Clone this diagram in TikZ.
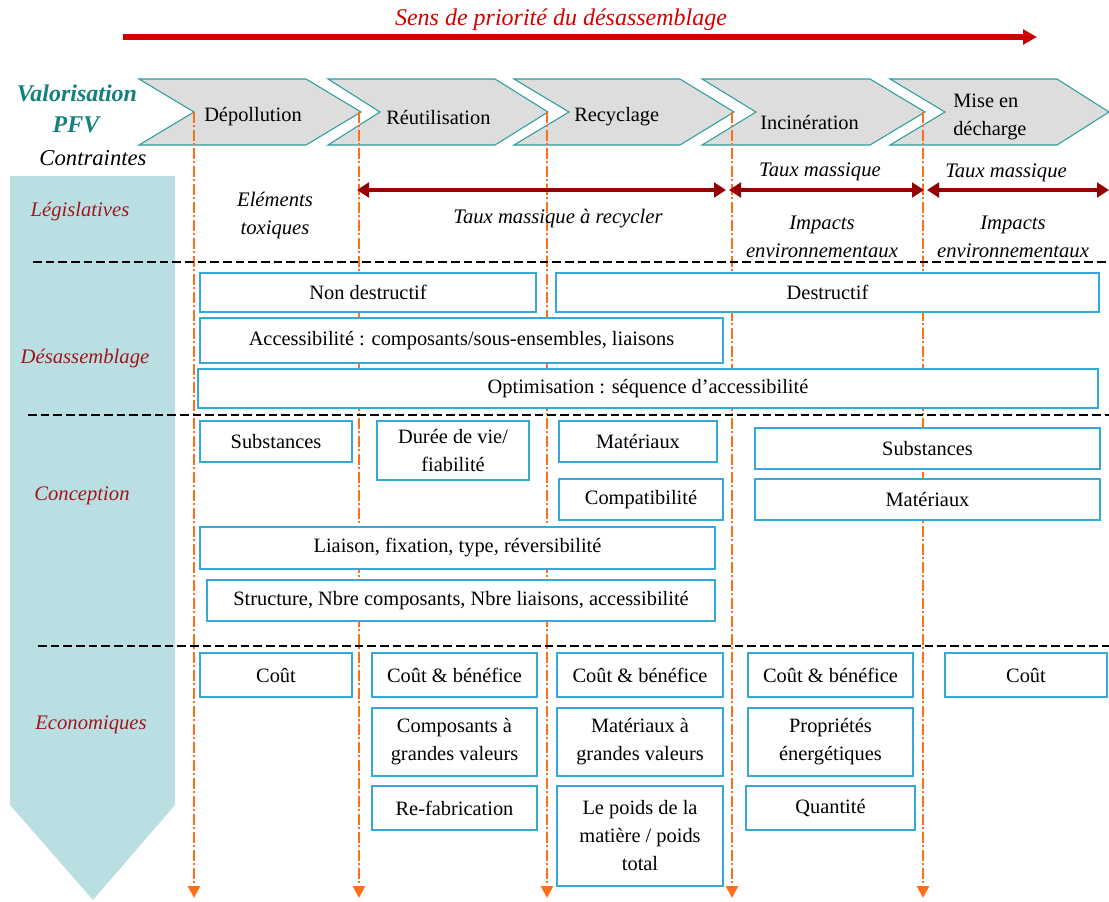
\documentclass[tikz,border=0pt]{standalone}
\usepackage{fontspec}
\setmainfont{Liberation Serif}
\usetikzlibrary{arrows.meta}
\definecolor{chevfill}{HTML}{DDDDDD}
\definecolor{chevline}{HTML}{2E9E9E}
\definecolor{tealtxt}{HTML}{15807F}
\definecolor{rowred}{HTML}{A3141C}
\definecolor{titred}{HTML}{D40000}
\definecolor{arrred}{HTML}{CC0000}
\definecolor{dblred}{HTML}{960000}
\definecolor{orangeL}{HTML}{FF6F1A}
\definecolor{boxblue}{HTML}{36A8D8}
\definecolor{pentfill}{HTML}{BADFE3}
\begin{document}
\begin{tikzpicture}[x=0.75pt,y=-0.75pt,
  box/.style={draw=boxblue, line width=1.1pt, fill=white, inner sep=0pt, align=center, font=\fontsize{15.3}{21}\selectfont},
  wh/.style 2 args={minimum width=#1*0.75pt, minimum height=#2*0.75pt},
  chev/.style={fill=chevfill, draw=chevline, line width=0.8pt},
  chevtxt/.style={anchor=west, inner sep=0pt, align=left, font=\fontsize{15.3}{21}\selectfont},
  itxt/.style={inner sep=0pt, align=center, font=\fontsize{15.5}{21}\selectfont\itshape},
  rowlab/.style={inner sep=0pt, text=rowred, font=\fontsize{15.5}{20}\selectfont\itshape},
  vline/.style={draw=orangeL, line width=1.9pt, dash pattern=on 8pt off 2pt on 1.5pt off 2pt, -{Triangle[length=9pt,width=9pt,fill=orangeL]}},
  hdash/.style={draw=black, line width=1.9pt, dash pattern=on 6.5pt off 3pt},
  dblarr/.style={draw=dblred, line width=3.2pt, {Triangle[length=9pt,width=11pt]}-{Triangle[length=9pt,width=11pt]}}
]
\useasboundingbox (0,0) rectangle (1109,901);

% left column pentagon
\fill[pentfill] (10,176) -- (175,176) -- (175,805) -- (93,900) -- (10,805) -- cycle;

% title arrow
\node[inner sep=0pt, text=titred, font=\fontsize{18}{20}\selectfont\itshape] (title) at (561,20) {Sens de priorité du désassemblage};
\coordinate (ta) at (123,37);
\coordinate (tb) at (1037,37);
\draw[draw=arrred, line width=4pt, -{Triangle[length=10.5pt,width=11pt]}] (ta) -- (tb);

% chevrons
\draw[chev] (139,79) -- (306,79) -- (361,112) -- (306,145) -- (139,145) -- (194,112) -- cycle;
\draw[chev] (328,79) -- (495,79) -- (548,112) -- (495,145) -- (328,145) -- (380,112) -- cycle;
\draw[chev] (514,79) -- (680,79) -- (734,112) -- (680,145) -- (514,145) -- (569,112) -- cycle;
\draw[chev] (702,79) -- (870,79) -- (925,112) -- (870,145) -- (702,145) -- (756,112) -- cycle;
\draw[chev] (890,79) -- (1057,79) -- (1109,112) -- (1057,145) -- (890,145) -- (945,112) -- cycle;
\node[chevtxt] (c1) at (204,117) {Dépollution};
\node[chevtxt] (c2) at (386,117) {Réutilisation};
\node[chevtxt] (c3) at (574,117) {Recyclage};
\node[chevtxt] (c4) at (760,122) {Incinération};
\node[chevtxt] (c5) at (953,117) {Mise en\\décharge};

% header labels
\node[inner sep=0pt, text=tealtxt, font=\fontsize{18}{20}\selectfont\bfseries\itshape] (val) at (77,93) {Valorisation};
\node[inner sep=0pt, text=tealtxt, font=\fontsize{18}{20}\selectfont\bfseries\itshape] (pfv) at (76,125) {PFV};
\node[inner sep=0pt, font=\fontsize{17}{20}\selectfont\itshape] (contr) at (93,158) {Contraintes};

% row labels
\node[rowlab] (lleg) at (80,212) {Législatives};
\node[rowlab] (ldes) at (85,359) {Désassemblage};
\node[rowlab] (lcon) at (82,496) {Conception};
\node[rowlab] (leco) at (91,725) {Economiques};

% orange vertical lines
\foreach \i/\x in {1/194,2/359,3/547,4/732,5/923}{
  \coordinate (o\i t) at (\x,112);
  \coordinate (o\i b) at (\x,898);
  \draw[vline] (o\i t) -- (o\i b);
}

% black dashed separators
\coordinate (s1a) at (33,262);  \coordinate (s1b) at (1109,262);
\coordinate (s2a) at (28,415);  \coordinate (s2b) at (1109,415);
\coordinate (s3a) at (38,646);  \coordinate (s3b) at (1109,646);
\draw[hdash] (s1a) -- (s1b);
\draw[hdash] (s2a) -- (s2b);
\draw[hdash] (s3a) -- (s3b);

% legislative row
\coordinate (a1) at (357,190); \coordinate (a2) at (726,190);
\coordinate (a3) at (729,190); \coordinate (a4) at (924,190);
\coordinate (a5) at (927,190); \coordinate (a6) at (1109,190);
\draw[dblarr] (a1) -- (a2);
\draw[dblarr] (a3) -- (a4);
\draw[dblarr] (a5) -- (a6);
\node[itxt] (tox) at (275,216) {Eléments\\toxiques};
\node[itxt] (tmr) at (558,219) {Taux massique à recycler};
\node[itxt] (tm1) at (820,172) {Taux massique};
\node[itxt] (tm2) at (1006,173) {Taux massique};
\node[itxt] (ie1) at (822,237) {Impacts\\environnementaux};
\node[itxt] (ie2) at (1013,237) {Impacts\\environnementaux};

% disassembly row
\node[box, wh={336}{39}] (nd) at (368,292.5) {Non destructif};
\node[box, wh={543}{39}] (de) at (827.5,292.5) {Destructif};
\node[box, wh={523}{45}] (acc) at (461.5,340.5) {Accessibilité : composants/sous-ensembles, liaisons};
\node[box, wh={900}{39}] (opt) at (648,388.5) {Optimisation : séquence d’accessibilité};

% conception row
\node[box, wh={152}{41}] (sub1) at (276,441.5) {Substances};
\node[box, wh={152}{59}] (dur) at (453,450.5) {Durée de vie/\\fiabilité};
\node[box, wh={158}{41}] (mat1) at (638,441.5) {Matériaux};
\node[box, wh={164}{41}] (comp) at (641,499.5) {Compatibilité};
\node[box, wh={345}{41}] (sub2) at (927.5,448.5) {Substances};
\node[box, wh={345}{41}] (mat2) at (927.5,499.5) {Matériaux};
\node[box, wh={515}{42}] (lia) at (457.5,548) {Liaison, fixation, type, réversibilité};
\node[box, wh={508}{41}] (str) at (461,600.5) {Structure, Nbre composants, Nbre liaisons, accessibilité};

% economic row
\node[box, wh={152}{44}] (cout1) at (276,675) {Coût};
\node[box, wh={165}{44}] (cb1) at (454.5,675) {Coût \& bénéfice};
\node[box, wh={165}{68}] (cgv) at (454.5,742) {Composants à\\grandes valeurs};
\node[box, wh={165}{44}] (ref) at (454.5,808) {Re-fabrication};
\node[box, wh={166}{44}] (cb2) at (640,675) {Coût \& bénéfice};
\node[box, wh={166}{68}] (mgv) at (640,742) {Matériaux à\\grandes valeurs};
\node[box, wh={166}{100}] (poids) at (640,836) {Le poids de la\\matière / poids\\total};
\node[box, wh={165}{44}] (cb3) at (830.5,675) {Coût \& bénéfice};
\node[box, wh={165}{68}] (prop) at (830.5,742) {Propriétés\\énergétiques};
\node[box, wh={169}{44}] (qte) at (830.5,808) {Quantité};
\node[box, wh={162}{44}] (cout2) at (1026,675) {Coût};
\end{tikzpicture}
\end{document}
